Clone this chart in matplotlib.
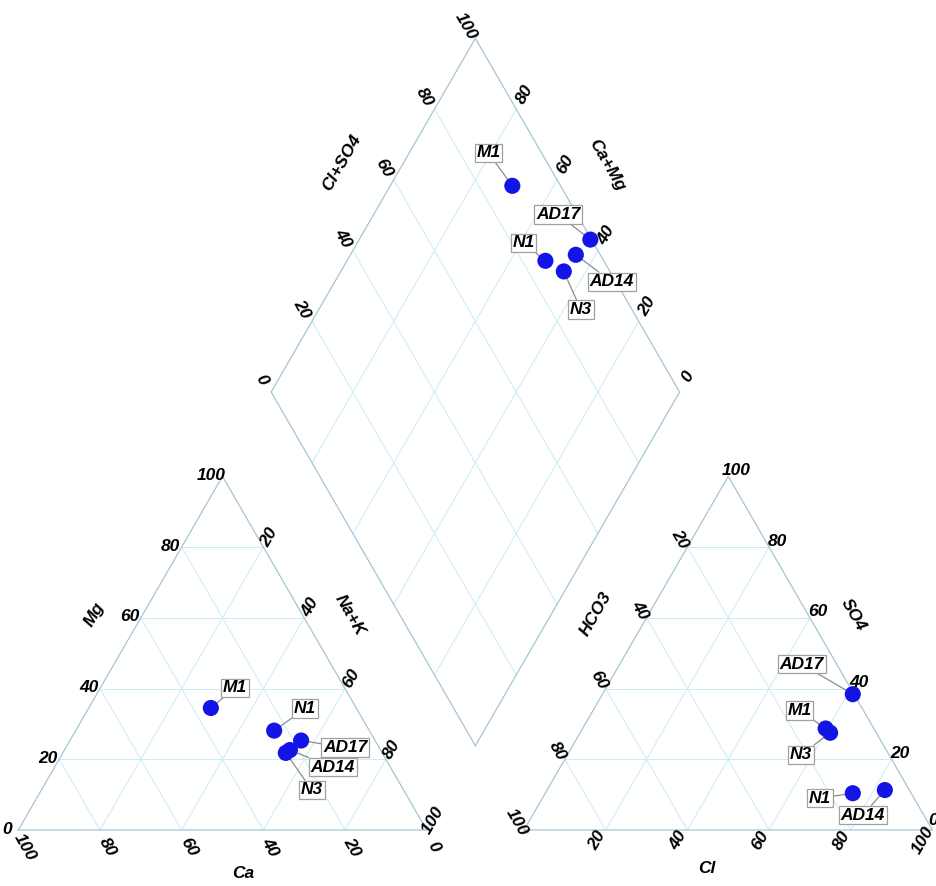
import matplotlib.pyplot as plt
import numpy as np

# sample composition, % meq
samples = ["M1", "N1", "AD17", "AD14", "N3"]
ca = [35.6, 23.3, 18.1, 22.2, 23.6]
mg = [34.5, 28.1, 25.3, 22.6, 21.8]
nak = [29.9, 48.6, 56.6, 55.2, 54.6]
hco3 = [11.8, 14.3, 0.3, 6.0, 11.3]
so4 = [28.7, 10.4, 38.4, 11.3, 27.5]
cl = [59.5, 75.3, 61.3, 82.7, 61.2]

ticks = [0, 20, 40, 60, 80, 100]

H = np.sqrt(3) / 2
G = 0.2383  # gap between the two triangles

def cation(c, m, n):
    t = c + m + n
    return (n + m / 2) / t, m / t * H

def anion(h, s, c):
    t = h + s + c
    return 1 + G + (c + s / 2) / t, s / t * H

def diamond(cm, cs):
    return 1 + G / 2 + (cs - cm) / 2, G * H + H * (cs + cm)

fig = plt.figure(figsize=(9.37, 8.86), dpi=100)
ax = fig.add_axes([0, 0, 1, 1])
ax.set_xlim(-0.0448, 2.2495)
ax.set_ylim(-0.1371, 2.0323)
ax.axis("off")

edge_c = "#a6c6d4"
grid_c = "#c9ecf6"

def seg(p, q, color, lw):
    ax.plot([p[0], q[0]], [p[1], q[1]], color=color, lw=lw, zorder=1)

# grid lines
for t in [20, 40, 60, 80]:
    u = 100 - t
    for f in (cation, anion):
        seg(f(u, t, 0), f(0, t, u), grid_c, 0.7)
        seg(f(u, 0, t), f(0, u, t), grid_c, 0.7)
        seg(f(t, u, 0), f(t, 0, u), grid_c, 0.7)
    seg(diamond(0, t / 100), diamond(1, t / 100), grid_c, 0.7)
    seg(diamond(t / 100, 0), diamond(t / 100, 1), grid_c, 0.7)

# outlines
for f in (cation, anion):
    pts = [f(100, 0, 0), f(0, 0, 100), f(0, 100, 0), f(100, 0, 0)]
    ax.plot([p[0] for p in pts], [p[1] for p in pts], color=edge_c, lw=0.9, zorder=2)
pts = [diamond(0, 0), diamond(0, 1), diamond(1, 1), diamond(1, 0), diamond(0, 0)]
ax.plot([p[0] for p in pts], [p[1] for p in pts], color=edge_c, lw=0.9, zorder=2)

FONT = dict(fontsize=12.5, fontweight="bold", fontstyle="italic", family="Liberation Sans")

def lab(xy, txt, dx, dy, rot=0):
    ax.annotate(txt, xy, xytext=(dx, -dy), textcoords="offset pixels",
                ha="center", va="center", rotation=rot,
                rotation_mode="anchor", **FONT)

# tick labels, cation triangle
for v in ticks:
    lab(cation(100 - v, v, 0), str(v), -11, -1)
    lab(cation(100 - v, 0, v), str(100 - v), 7, 17, -60)
    if v > 0:
        lab(cation(0, 100 - v, v), str(v), 6, -10, 60)

# tick labels, anion triangle
for v in ticks:
    if v > 0:
        lab(anion(v, 100 - v, 0), str(v), -7, -8, -60)
        lab(anion(100 - v, 0, v), str(v), -9, 10, 60)
        lab(anion(0, v, 100 - v), str(v), 8, -6)
    else:
        lab(anion(0, v, 100 - v), str(v), 1, -10)

# tick labels, diamond
for v in ticks:
    lab(diamond(1, v / 100), str(v), -10, -12, -60)
    if v < 100:
        lab(diamond(v / 100, 1), str(v), 8, -15, 60)

# axis titles
lab(cation(40, 60, 0), "Mg", -46, -3, 60)
lab(cation(0, 60, 40), "Na+K", 46, -3, -60)
lab(cation(50, 0, 50), "Ca", 21, 43)
lab(anion(40, 60, 0), "HCO3", -51, -4, 60)
lab(anion(0, 60, 40), "SO4", 43, -3, -60)
lab(anion(50, 0, 50), "Cl", -21, 38)
lab(diamond(1, 0.6), "Cl+SO4", -52, -17, 60)
lab(diamond(0.6, 1), "Ca+Mg", 50, -15, -60)

# sample points
cat_off = {"M1": (24, -20), "N1": (31, -22), "AD17": (44, 7), "AD14": (43, 17), "N3": (26, 37)}
dia_off = {"M1": (-24, -33), "N1": (-22, -18), "AD17": (-32, -25), "AD14": (36, 27), "N3": (17, 38)}
an_off = {"AD17": (-51, -30), "M1": (-26, -18), "N3": (-29, 22), "N1": (-33, 5), "AD14": (-22, 25)}

groups = [[], [], []]
for i, name in enumerate(samples):
    p1 = cation(ca[i], mg[i], nak[i])
    p2 = anion(hco3[i], so4[i], cl[i])
    cm = (ca[i] + mg[i]) / (ca[i] + mg[i] + nak[i])
    cs = (cl[i] + so4[i]) / (hco3[i] + so4[i] + cl[i])
    p3 = diamond(cm, cs)
    for k, (p, off) in enumerate([(p1, cat_off), (p2, an_off), (p3, dia_off)]):
        groups[k].append(p)
        dx, dy = off[name]
        ax.annotate(name, p, xytext=(dx, -dy), textcoords="offset pixels",
                    ha="center", va="center", zorder=4,
                    bbox=dict(boxstyle="square,pad=0.1", fc="white", ec="#a0a0a0", lw=0.9),
                    arrowprops=dict(arrowstyle="-", color="#8c8c8c", lw=0.9,
                                    shrinkA=0, shrinkB=0),
                    **FONT)

for g in groups:
    ax.scatter([p[0] for p in g], [p[1] for p in g], s=135, c="#1414e6",
               edgecolors="none", zorder=5)

fig.savefig("out.png", dpi=100)
